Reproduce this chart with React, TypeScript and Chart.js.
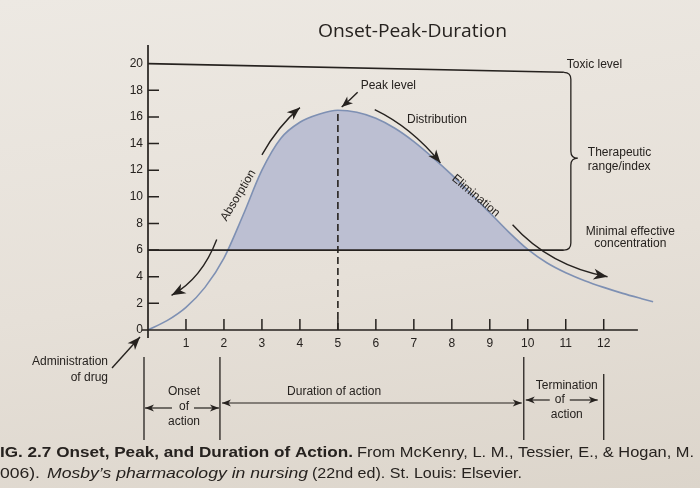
import React, { useEffect, useRef } from "react";
import { Chart, registerables } from "chart.js";

Chart.register(...registerables);

// ---------- data ----------
const titleText = "Onset-Peak-Duration";
const timeHours = [0, 0.5, 1, 1.5, 2, 2.5, 3, 3.5, 4, 4.5, 5, 5.5, 6, 6.5, 7, 7.5, 8, 8.5, 9, 9.5, 10, 10.5, 11, 11.5, 12, 12.5, 13, 13.3];
const plasmaLevel = [0, 0.7, 1.7, 3.2, 5.4, 8.6, 12.0, 14.4, 15.6, 16.2, 16.5, 16.35, 15.9, 15.15, 14.15, 12.95, 11.65, 10.25, 8.8, 7.35, 6.05, 5.05, 4.3, 3.7, 3.2, 2.75, 2.35, 2.12];
const xTickValues = [1, 2, 3, 4, 5, 6, 7, 8, 9, 10, 11, 12];
const yTickValues = [0, 2, 4, 6, 8, 10, 12, 14, 16, 18, 20];
const xMax = 13.35;
const yMax = 21.4;
const xAxisEnd = 12.9;
const toxicLevel = 20;
const toxicLevelRightEnd = 19.35;
const minimalEffective = 6;
const rangeLineEnd = 10.95;
const peakTime = 5;
const peakLevel = 16.5;
const onsetStart = 0;
const onsetEnd = 2;
const durationEnd = 10;
const terminationEnd = 12;

const INK = "#26221f";
const SANS = "'Liberation Sans', Arial, Helvetica, sans-serif";

// ---------- drawing helpers ----------
function head(ctx: CanvasRenderingContext2D, x: number, y: number, ang: number, len = 10, w = 4) {
  const c = Math.cos(ang), s = Math.sin(ang);
  const bx = x - c * len, by = y - s * len;
  const nx = -s, ny = c;
  ctx.beginPath();
  ctx.moveTo(x, y);
  ctx.lineTo(bx + nx * w, by + ny * w);
  ctx.lineTo(x - c * len * 0.72, y - s * len * 0.72);
  ctx.lineTo(bx - nx * w, by - ny * w);
  ctx.closePath();
  ctx.fill();
}

function arrowQ(ctx: CanvasRenderingContext2D, x0: number, y0: number, cx: number, cy: number, x1: number, y1: number, len = 13, w = 5) {
  ctx.beginPath();
  ctx.moveTo(x0, y0);
  ctx.quadraticCurveTo(cx, cy, x1, y1);
  ctx.stroke();
  head(ctx, x1, y1, Math.atan2(y1 - cy, x1 - cx), len, w);
}

function arrowL(ctx: CanvasRenderingContext2D, x0: number, y0: number, x1: number, y1: number, len = 9, w = 3.5) {
  ctx.beginPath();
  ctx.moveTo(x0, y0);
  ctx.lineTo(x1, y1);
  ctx.stroke();
  head(ctx, x1, y1, Math.atan2(y1 - y0, x1 - x0), len, w);
}

function fitText(ctx: CanvasRenderingContext2D, text: string, x: number, y: number, width: number) {
  const w = ctx.measureText(text).width;
  ctx.save();
  ctx.translate(x, y);
  ctx.scale(width / w, 1);
  ctx.textAlign = "left";
  ctx.fillText(text, 0, 0);
  ctx.restore();
}

function brace(ctx: CanvasRenderingContext2D, x: number, yTop: number, yBot: number, yTip: number, w: number) {
  const h = w / 2;
  ctx.beginPath();
  ctx.moveTo(x, yTop);
  ctx.quadraticCurveTo(x + h, yTop, x + h, yTop + h);
  ctx.lineTo(x + h, yTip - h);
  ctx.quadraticCurveTo(x + h, yTip, x + w, yTip);
  ctx.quadraticCurveTo(x + h, yTip, x + h, yTip + h);
  ctx.lineTo(x + h, yBot - h);
  ctx.quadraticCurveTo(x + h, yBot, x, yBot);
  ctx.stroke();
}

const annotationPlugin = {
  id: "figureAnnotations",
  afterDraw(chart: any) {
    const ctx: CanvasRenderingContext2D = chart.ctx;
    const xs = chart.scales.x;
    const ys = chart.scales.y;
    const X = (v: number) => xs.getPixelForValue(v);
    const Y = (v: number) => ys.getPixelForValue(v);
    ctx.save();
    ctx.strokeStyle = INK;
    ctx.fillStyle = INK;
    ctx.lineCap = "butt";

    // title
    ctx.font = `18px 'Open Sans', ${SANS}`;
    ctx.textBaseline = "middle";
    fitText(ctx, titleText, 318, 32, 189);

    // axes
    ctx.lineWidth = 1.7;
    ctx.beginPath();
    ctx.moveTo(X(0), Y(yMax));
    ctx.lineTo(X(0), Y(0) + 8);
    ctx.moveTo(X(0) - 6, Y(0));
    ctx.lineTo(X(xAxisEnd), Y(0));
    ctx.stroke();
    ctx.lineWidth = 1.5;
    ctx.beginPath();
    yTickValues.forEach((v) => {
      if (v > 0 && v < toxicLevel) {
        ctx.moveTo(X(0), Y(v));
        ctx.lineTo(X(0) + 11, Y(v));
      }
    });
    xTickValues.forEach((v) => {
      ctx.moveTo(X(v), Y(0));
      ctx.lineTo(X(v), Y(0) - 11);
    });
    ctx.stroke();

    // toxic & minimal effective lines
    ctx.lineWidth = 1.6;
    ctx.beginPath();
    ctx.moveTo(X(0), Y(toxicLevel));
    ctx.lineTo(X(rangeLineEnd), Y(toxicLevelRightEnd));
    ctx.moveTo(X(0), Y(minimalEffective));
    ctx.lineTo(X(rangeLineEnd), Y(minimalEffective));
    ctx.stroke();

    // brace
    ctx.lineWidth = 1.3;
    brace(ctx, X(rangeLineEnd), Y(toxicLevelRightEnd), Y(minimalEffective), Y(12.9), 14);

    // peak dashed line
    ctx.lineWidth = 1.6;
    ctx.setLineDash([7, 4]);
    ctx.beginPath();
    ctx.moveTo(X(peakTime), Y(0));
    ctx.lineTo(X(peakTime), Y(peakLevel));
    ctx.stroke();
    ctx.setLineDash([]);

    // right-side labels
    ctx.font = `12px ${SANS}`;
    ctx.textBaseline = "middle";
    ctx.textAlign = "left";
    ctx.fillText("Toxic level", X(rangeLineEnd) + 3, Y(toxicLevel) + 1);
    ctx.fillText("Therapeutic", X(rangeLineEnd) + 24, Y(13.3));
    ctx.fillText("range/index", X(rangeLineEnd) + 24, Y(12.25));
    ctx.textAlign = "center";
    ctx.fillText("Minimal effective", X(12.7), Y(7.4));
    ctx.fillText("concentration", X(12.7), Y(6.45));

    // peak label + arrow
    ctx.textAlign = "left";
    ctx.fillText("Peak level", X(5.6), Y(18.35));
    ctx.lineWidth = 1.4;
    arrowQ(ctx, X(5.52), Y(17.85), X(5.35), Y(17.35), X(5.1), Y(16.75), 11, 4.5);

    // distribution
    ctx.fillText("Distribution", X(6.82), Y(15.8));
    arrowQ(ctx, X(5.97), Y(16.55), X(6.95), Y(15.2), X(7.7), Y(12.55), 13, 5);

    // elimination
    ctx.save();
    ctx.translate(X(8.63), Y(10.07));
    ctx.rotate((40 * Math.PI) / 180);
    ctx.textAlign = "center";
    ctx.fillText("Elimination", 0, 0);
    ctx.restore();
    arrowQ(ctx, X(9.6), Y(7.9), X(10.58), Y(4.8), X(12.1), Y(4.0), 14, 5.5);

    // absorption
    ctx.save();
    ctx.translate(X(2.38), Y(10.1));
    ctx.rotate((-59 * Math.PI) / 180);
    ctx.textAlign = "center";
    ctx.fillText("Absorption", 0, 0);
    ctx.restore();
    arrowQ(ctx, X(3.0), Y(13.15), X(3.42), Y(15.3), X(4.0), Y(16.7), 13, 5);
    arrowQ(ctx, X(1.81), Y(6.8), X(1.42), Y(3.87), X(0.62), Y(2.6), 14, 5.5);

    // administration of drug
    ctx.textAlign = "right";
    ctx.fillText("Administration", 108, 362);
    ctx.fillText("of drug", 108, 378);
    arrowL(ctx, 112, 368, X(0) - 8, Y(0) + 7, 13, 5);

    // phase boundaries
    ctx.lineWidth = 1.3;
    ctx.beginPath();
    [onsetStart, onsetEnd, durationEnd].forEach((v) => {
      ctx.moveTo(X(v) - 4, 357);
      ctx.lineTo(X(v) - 4, 440);
    });
    ctx.moveTo(X(terminationEnd), 374);
    ctx.lineTo(X(terminationEnd), 440);
    ctx.stroke();

    // onset
    ctx.textAlign = "center";
    const onC = X((onsetStart + onsetEnd) / 2) - 2;
    ctx.fillText("Onset", onC, 392);
    ctx.fillText("of", onC, 407);
    ctx.fillText("action", onC, 422);
    ctx.lineWidth = 1.2;
    arrowL(ctx, onC - 12, 408, X(onsetStart) - 3, 408);
    arrowL(ctx, onC + 10, 408, X(onsetEnd) - 5, 408);

    // duration
    ctx.fillText("Duration of action", X(4.9), 392);
    const dy = 403;
    ctx.beginPath();
    ctx.moveTo(X(onsetEnd) - 2, dy);
    ctx.lineTo(X(durationEnd) - 6, dy);
    ctx.stroke();
    head(ctx, X(onsetEnd) - 2, dy, Math.PI, 9, 3.5);
    head(ctx, X(durationEnd) - 6, dy, 0, 9, 3.5);

    // termination
    const tC = X((durationEnd + terminationEnd) / 2) + 1;
    ctx.fillText("Termination", tC, 386);
    ctx.fillText("of", tC - 7, 400);
    ctx.fillText("action", tC, 415);
    arrowL(ctx, tC - 17, 400, X(durationEnd) - 2, 400);
    arrowL(ctx, tC + 3, 400, X(terminationEnd) - 6, 400);

    // caption
    ctx.textBaseline = "alphabetic";
    ctx.font = `bold 15px ${SANS}`;
    fitText(ctx, "IG. 2.7 Onset, Peak, and Duration of Action.", 0, 457, 353);
    ctx.font = `15px ${SANS}`;
    fitText(ctx, "From McKenry, L. M., Tessier, E., & Hogan, M.", 357, 457, 337);
    fitText(ctx, "006).", 0, 478, 40);
    ctx.font = `italic 15px ${SANS}`;
    fitText(ctx, "Mosby\u2019s pharmacology in nursing", 47, 478, 261);
    ctx.font = `15px ${SANS}`;
    fitText(ctx, "(22nd ed). St. Louis: Elsevier.", 312, 478, 210);

    ctx.restore();
  },
};

export default function App() {
  const ref = useRef<HTMLCanvasElement>(null);
  useEffect(() => {
    const chart = new Chart(ref.current as HTMLCanvasElement, {
      type: "line",
      data: {
        datasets: [
          {
            data: timeHours.map((t, i) => ({ x: t, y: plasmaLevel[i] })),
            borderColor: "#7e90b3",
            borderWidth: 1.6,
            pointRadius: 0,
            cubicInterpolationMode: "monotone",
            fill: { target: { value: minimalEffective }, above: "#bcbfd2", below: "rgba(0,0,0,0)" },
          } as any,
        ],
      },
      options: {
        responsive: false,
        animation: false,
        devicePixelRatio: 1,
        layout: { padding: { top: 45, right: 45, left: 0, bottom: 0 } },
        plugins: { legend: { display: false }, tooltip: { enabled: false }, title: { display: false } },
        scales: {
          x: {
            type: "linear",
            min: 0,
            max: xMax,
            afterFit: (s: any) => {
              s.height = 158;
            },
            afterBuildTicks: (s: any) => {
              s.ticks = xTickValues.map((v) => ({ value: v }));
            },
            grid: { display: false, drawTicks: false },
            border: { display: false },
            ticks: { padding: 6, color: INK, font: { family: SANS, size: 12 }, maxRotation: 0, autoSkip: false },
          },
          y: {
            type: "linear",
            min: 0,
            max: yMax,
            afterFit: (s: any) => {
              s.width = 148;
            },
            afterBuildTicks: (s: any) => {
              s.ticks = yTickValues.map((v) => ({ value: v }));
            },
            grid: { display: false, drawTicks: false },
            border: { display: false },
            ticks: { padding: 5, color: INK, font: { family: SANS, size: 12 }, autoSkip: false },
          },
        },
      } as any,
      plugins: [annotationPlugin],
    });
    return () => chart.destroy();
  }, []);
  return (
    <canvas
      ref={ref}
      width={700}
      height={488}
      style={{
        position: "absolute",
        left: 0,
        top: 0,
        width: 700,
        height: 488,
        background: "linear-gradient(172deg, #ede9e3 0%, #e6e0d8 55%, #dcd5cb 100%)",
      }}
    />
  );
}
